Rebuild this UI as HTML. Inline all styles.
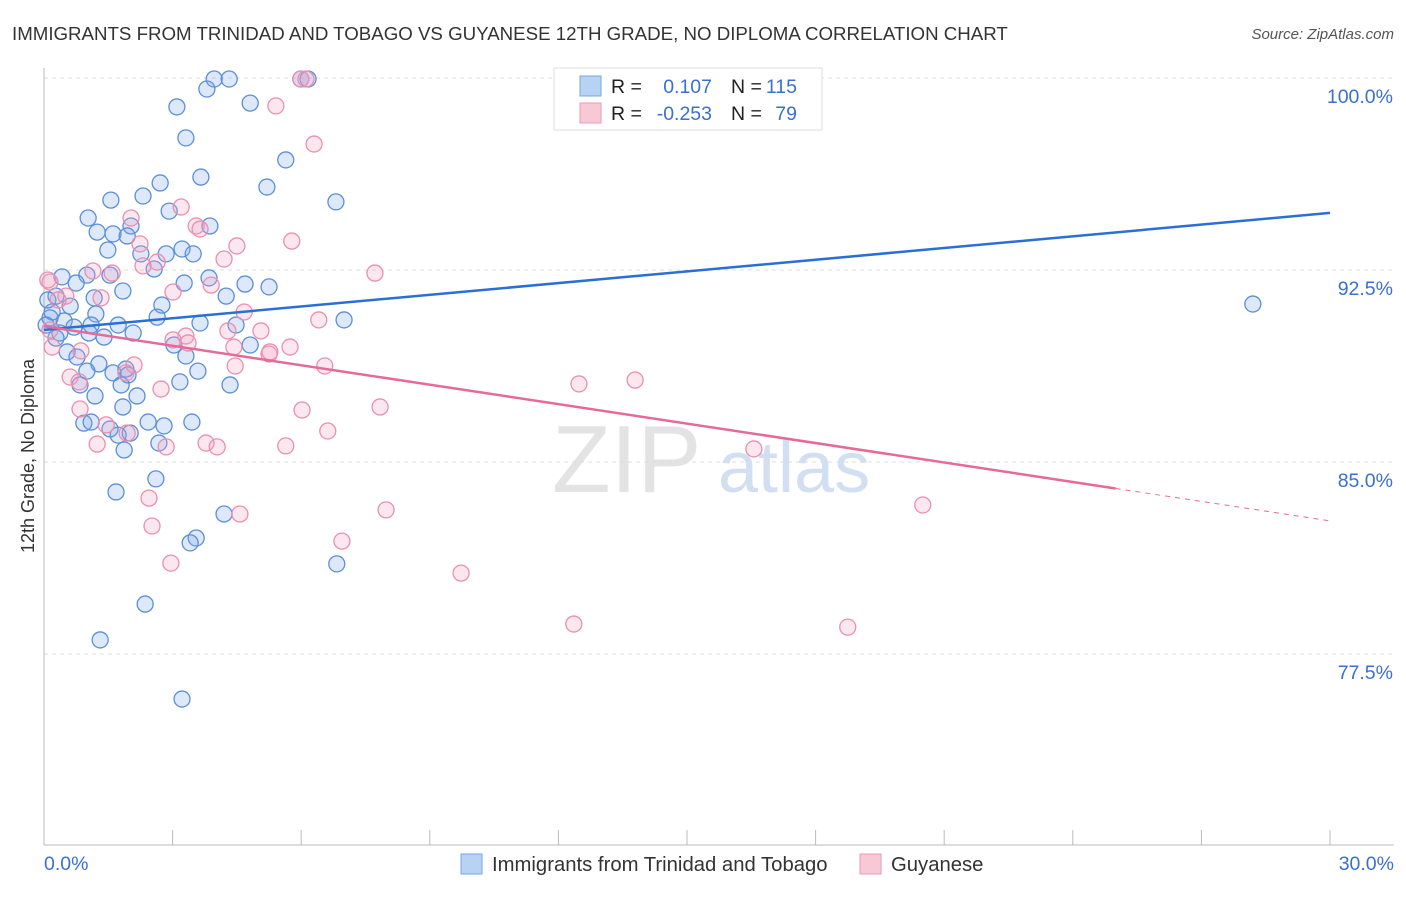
<!DOCTYPE html>
<html><head><meta charset="utf-8"><style>
body{margin:0;background:#fff;font-family:"Liberation Sans",sans-serif;}
svg text{font-family:"Liberation Sans",sans-serif;}
</style></head><body>
<svg id="chart" width="1406" height="892" xmlns="http://www.w3.org/2000/svg">
<text x="12" y="40" font-size="18.7" fill="#333">IMMIGRANTS FROM TRINIDAD AND TOBAGO VS GUYANESE 12TH GRADE, NO DIPLOMA CORRELATION CHART</text>
<text x="1394" y="39" font-size="15" fill="#555" text-anchor="end" font-style="italic">Source: ZipAtlas.com</text>
<text x="0" y="0" transform="translate(34,456) rotate(-90)" font-size="18" fill="#333" text-anchor="middle">12th Grade, No Diploma</text>
<g><text x="552" y="492" font-size="96" fill="#ddd" font-family="Liberation Serif" opacity="0.8">ZIP</text><text x="718" y="492" font-size="72" fill="#c8d8f0" opacity="0.8">atlas</text></g>
<g id="grid"></g><g id="axes"></g><g id="pts"></g><g id="lines"></g>
<g>
<rect x="554" y="68" width="268" height="62" fill="#fff" stroke="#ddd"/>
<rect x="580" y="76" width="21" height="20" fill="#b8d2f4" stroke="#7aa6e4"/>
<rect x="580" y="103" width="21" height="20" fill="#f9c8d6" stroke="#ec9ab4"/>
<text x="611" y="93" font-size="19.5" fill="#222">R =</text><text x="712" y="93" font-size="19.5" fill="#3a70d0" text-anchor="end">0.107</text>
<text x="731" y="93" font-size="19.5" fill="#222">N =</text><text x="797" y="93" font-size="19.5" fill="#3a70d0" text-anchor="end">115</text>
<text x="611" y="120" font-size="19.5" fill="#222">R =</text><text x="712" y="120" font-size="19.5" fill="#3a70d0" text-anchor="end">-0.253</text>
<text x="731" y="120" font-size="19.5" fill="#222">N =</text><text x="797" y="120" font-size="19.5" fill="#3a70d0" text-anchor="end">79</text>
</g>
<g>
<rect x="461" y="854" width="21" height="20" fill="#b8d2f4" stroke="#7aa6e4"/>
<text x="492" y="871" font-size="20.3" fill="#333">Immigrants from Trinidad and Tobago</text>
<rect x="860" y="854" width="21" height="20" fill="#f9c8d6" stroke="#ec9ab4"/>
<text x="891" y="871" font-size="20.3" fill="#333">Guyanese</text>
</g>
</svg>
<script>
const yTicks=[100,92.5,85,77.5];
const yTickLabels=["100.0%","92.5%","85.0%","77.5%"];
const xEndLabels=["0.0%","30.0%"];
const blueX=[3.97,4.32,6.16,5.99,3.80,4.81,3.10,3.31,5.64,3.66,2.71,5.20,2.31,1.56,6.81,2.92,1.03,3.87,2.03,1.24,1.61,1.94,3.22,2.85,3.48,1.49,2.26,2.57,1.00,0.42,1.54,3.85,4.69,3.27,5.25,0.75,1.84,0.28,1.17,4.25,2.75,0.61,1.21,0.19,2.64,0.47,3.64,1.73,4.48,7.00,1.10,0.70,0.37,1.40,2.08,1.05,0.28,3.03,4.81,0.54,3.31,0.77,1.28,1.91,1.00,3.59,1.61,1.96,3.17,4.34,0.84,1.80,1.19,2.17,1.84,0.93,2.43,2.80,3.45,1.10,1.54,2.01,1.73,2.68,1.87,2.61,1.68,4.20,3.55,3.41,6.83,2.36,1.31,3.22,28.20,0.09,0.14,0.05];
const blueY=[99.96,99.96,99.96,99.96,99.57,99.02,98.87,97.66,96.80,96.13,95.90,95.74,95.39,95.23,95.16,94.80,94.53,94.22,94.22,93.98,93.91,93.83,93.32,93.13,93.13,93.28,93.13,92.54,92.30,92.23,92.30,92.19,91.95,91.99,91.84,91.99,91.68,91.48,91.41,91.48,91.13,91.09,90.78,90.86,90.66,90.51,90.43,90.35,90.35,90.55,90.35,90.27,90.04,89.88,90.04,90.04,89.84,89.57,89.57,89.30,89.14,89.10,88.83,88.63,88.55,88.55,88.48,88.40,88.13,88.01,88.01,88.01,87.58,87.58,87.15,86.52,86.56,86.41,86.56,86.56,86.29,86.13,86.05,85.74,85.47,84.34,83.83,82.97,82.03,81.84,81.02,79.45,78.05,75.74,91.17,91.33,90.63,90.35];
const pinkX=[5.99,6.11,5.41,6.30,3.20,2.03,3.55,3.64,4.50,5.78,2.24,4.20,2.64,2.31,1.14,7.72,0.14,1.59,3.90,3.01,0.51,1.33,4.67,6.41,4.29,5.06,3.31,3.01,3.36,4.43,5.25,5.74,5.27,6.55,4.46,2.10,0.86,0.61,1.91,12.48,13.79,2.73,0.82,7.84,6.02,0.84,1.45,6.62,3.78,4.04,2.85,5.64,1.24,16.56,1.94,2.45,7.98,20.50,2.52,4.57,6.95,2.96,9.73,12.36,18.75,0.09,0.14,0.19,0.33];
const pinkY=[99.96,99.96,98.91,97.42,94.96,94.53,94.22,94.10,93.44,93.63,93.52,92.93,92.81,92.66,92.46,92.38,92.03,92.38,91.91,91.64,91.48,91.41,90.86,90.55,90.12,90.12,89.92,89.77,89.65,89.49,89.22,89.49,89.30,88.75,88.75,88.79,89.34,88.32,88.48,88.05,88.20,87.85,88.13,87.15,87.03,87.07,86.45,86.21,85.74,85.59,85.59,85.63,85.70,85.51,86.13,83.59,83.13,83.32,82.50,82.97,81.91,81.05,80.66,78.67,78.55,92.11,90.16,89.49,91.33];
const blueTrend=[90.16,94.73];
const pinkTrend=[90.3,82.7];
const pinkSolidEnd=25;
const NS="http://www.w3.org/2000/svg";
const X=v=>44+v*1286/30, Y=v=>78+(100-v)*25.6;
function mk(tag,attrs,parent){const e=document.createElementNS(NS,tag);for(const k in attrs)e.setAttribute(k,attrs[k]);parent.appendChild(e);return e;}
const grid=document.getElementById('grid'),axes=document.getElementById('axes'),pts=document.getElementById('pts'),lines=document.getElementById('lines');
yTicks.forEach((t,i)=>{
 const l=mk('line',{x1:44,x2:1394,y1:Y(t),y2:Y(t),stroke:'#ddd','stroke-dasharray':'4,4'},grid);
 
 
 const tx=mk('text',{x:1393,y:Y(t)+25,'font-size':19.5,fill:'#3a70d0','text-anchor':'end'},grid);
 tx.textContent=yTickLabels[i];
 
 
});
const xa=mk('line',{x1:44,x2:1394,y1:845,y2:845,stroke:'#bbb'},axes);


const ya=mk('line',{x1:44,x2:44,y1:68,y2:845,stroke:'#bbb'},axes);


for(let i=0;i<=10;i++){const t=mk('line',{x1:X(i*3),x2:X(i*3),y1:830,y2:845,stroke:'#bbb'},axes);
 
 }
const l0=mk('text',{x:44,y:870,'font-size':19.5,fill:'#3a70d0'},axes);l0.textContent=xEndLabels[0];


const l1=mk('text',{x:1394,y:870,'font-size':19.5,fill:'#3a70d0','text-anchor':'end'},axes);l1.textContent=xEndLabels[1];


blueX.forEach((v,i)=>{const c=mk('circle',{cx:X(v),cy:Y(blueY[i]),r:8,fill:'rgba(120,165,235,0.25)',stroke:'#5b8fd9','stroke-width':1.3},pts);
 
 });
pinkX.forEach((v,i)=>{const c=mk('circle',{cx:X(v),cy:Y(pinkY[i]),r:8,fill:'rgba(245,160,190,0.25)',stroke:'#ea8fb0','stroke-width':1.3},pts);
 
 });
const bl=mk('line',{x1:X(0),y1:Y(blueTrend[0]),x2:X(30),y2:Y(blueTrend[1]),stroke:'#2a6fd6','stroke-width':2.5},lines);


const pm=pinkTrend[0]+(pinkTrend[1]-pinkTrend[0])*pinkSolidEnd/30;
const pl=mk('line',{x1:X(0),y1:Y(pinkTrend[0]),x2:X(pinkSolidEnd),y2:Y(pm),stroke:'#e56a98','stroke-width':2.5},lines);


const pd=mk('line',{x1:X(pinkSolidEnd),y1:Y(pm),x2:X(30),y2:Y(pinkTrend[1]),stroke:'#e56a98','stroke-width':1,'stroke-dasharray':'5,5'},lines);


</script>
</body></html>
